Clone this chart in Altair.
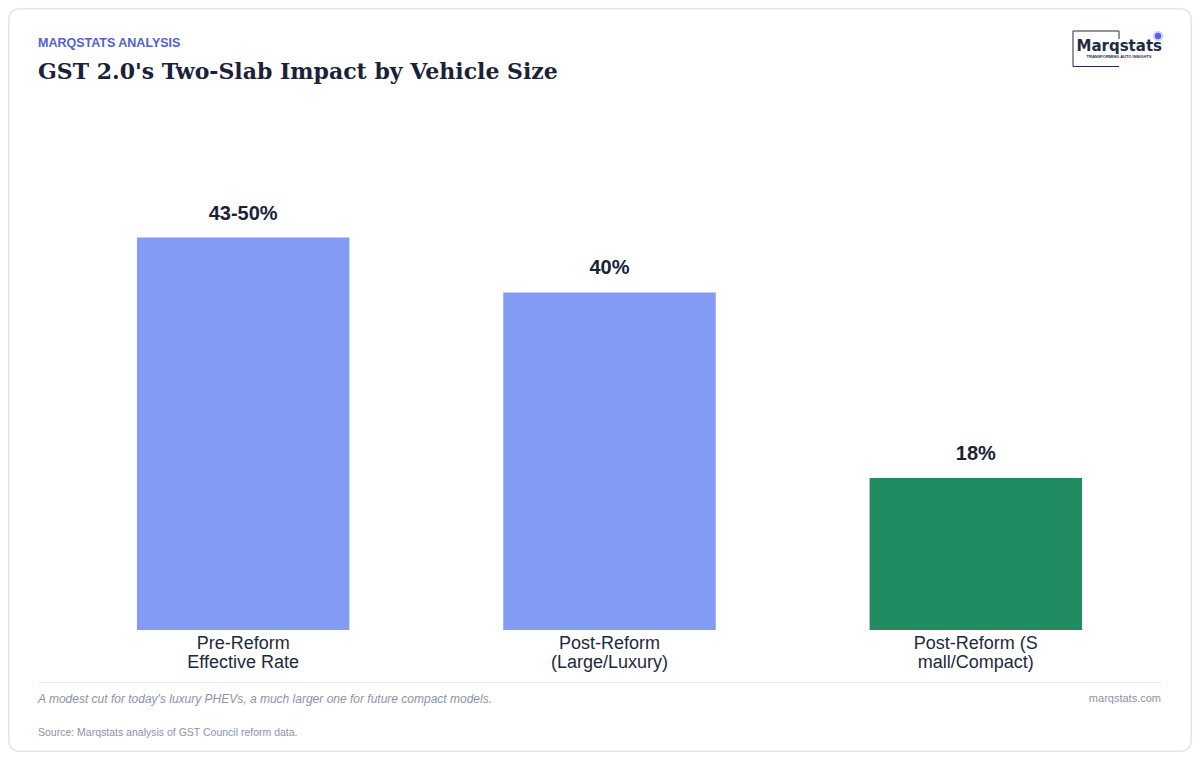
import altair as alt
import pandas as pd

# ---- data ----
categories = ["Pre-Reform\nEffective Rate", "Post-Reform\n(Large/Luxury)", "Post-Reform (S\nmall/Compact)"]
values = [46.5, 40, 18]
value_labels = ["43-50%", "40%", "18%"]
bar_colors = ["#849BF4", "#849BF4", "#218B62"]

eyebrow = "MARQSTATS ANALYSIS"
title = "GST 2.0's Two-Slab Impact by Vehicle Size"
note = "A modest cut for today's luxury PHEVs, a much larger one for future compact models."
site = "marqstats.com"
source = "Source: Marqstats analysis of GST Council reform data."
logo_name = "Marqstats"
logo_tag = "TRANSFORMING AUTO INSIGHTS"

df = pd.DataFrame({"category": categories, "value": values, "label": value_labels, "color": bar_colors})
one = pd.DataFrame({"a": [0]})

# plot area origin in page pixels
OX, OY = 60, 100


def px(x):
    return x - OX


def py(y):
    return y - OY


x_enc = alt.X(
    "category:N",
    sort=categories,
    scale=alt.Scale(paddingInner=0.42, paddingOuter=0.21),
    axis=alt.Axis(
        title=None, labelAngle=0, labelFontSize=18, labelLineHeight=19.5,
        labelColor="#1e293b", labelFont="Liberation Sans", labelPadding=4,
        ticks=False, tickSize=0, domain=False, grid=False, zindex=2,
        labelExpr="split(datum.label, '\\n')", labelLimit=400,
    ),
)
y_enc = alt.Y("value:Q", scale=alt.Scale(domain=[0, 62.8], nice=False, zero=True), axis=None)

card = alt.Chart(one).mark_rect(
    fill="white", stroke="#e3e6eb", strokeWidth=1.5, cornerRadius=10
).encode(
    x=alt.value(px(8.75)), x2=alt.value(px(1191.25)),
    y=alt.value(py(8.75)), y2=alt.value(py(751.25)),
)

bars = alt.Chart(df).mark_bar().encode(
    x=x_enc, y=y_enc, color=alt.Color("color:N", scale=None)
)

bar_labels = alt.Chart(df).mark_text(
    dy=-18, baseline="alphabetic", fontSize=20, fontWeight="bold",
    font="Liberation Sans", color="#1a2238",
).encode(x=x_enc, y=y_enc, text="label:N")


def txt(s, x, y, **kw):
    return alt.Chart(one).mark_text(text=s, **kw).encode(x=alt.value(px(x)), y=alt.value(py(y)))


def rule(x1, y1, x2, y2, color, width):
    return alt.Chart(one).mark_rule(color=color, strokeWidth=width).encode(
        x=alt.value(px(x1)), x2=alt.value(px(x2)), y=alt.value(py(y1)), y2=alt.value(py(y2))
    )


eyebrow_t = txt(eyebrow, 38, 47, align="left", baseline="alphabetic", fontSize=12.5,
                fontWeight="bold", font="Liberation Sans", color="#5062cc")
title_t = txt(title, 38, 78.5, align="left", baseline="alphabetic", fontSize=22,
              fontWeight="bold", font="DejaVu Serif", color="#1a2238")

footer_line = rule(38, 682.5, 1162, 682.5, "#e5e7eb", 1)
note_t = txt(note, 38, 703, align="left", baseline="alphabetic", fontSize=12,
             fontStyle="italic", font="Liberation Sans", color="#8b93a5")
site_t = txt(site, 1161, 702, align="right", baseline="alphabetic", fontSize=11,
             font="Liberation Sans", color="#8b93a5")
source_t = txt(source, 38, 736, align="left", baseline="alphabetic", fontSize=10.5,
               font="Liberation Sans", color="#8b93a5")

# logo
logo_col = "#1f2a44"
logo_parts = [
    rule(1073, 31, 1119, 31, logo_col, 1),
    rule(1073, 31, 1073, 66.5, logo_col, 1),
    rule(1073, 66.5, 1119, 66.5, logo_col, 1),
    rule(1119, 31, 1119, 39, logo_col, 1),
    txt(logo_name, 1076.5, 51, align="left", baseline="alphabetic", fontSize=15,
        font="DejaVu Sans", fontWeight="bold", color=logo_col),
    txt(logo_tag, 1119, 57.5, align="center", baseline="alphabetic", fontSize=4,
        font="Liberation Sans", fontWeight="bold", color=logo_col),
    alt.Chart(one).mark_circle(size=110, color="#6c72ee", opacity=0.3).encode(
        x=alt.value(px(1158)), y=alt.value(py(36))),
    alt.Chart(one).mark_circle(size=40, color="#5a5fe6", opacity=1).encode(
        x=alt.value(px(1158)), y=alt.value(py(36))),
]

chart = alt.layer(
    card, bars, bar_labels, eyebrow_t, title_t, footer_line, note_t, site_t, source_t, *logo_parts
).properties(
    width=1099, height=530,
    autosize=alt.AutoSizeParams(type="none"),
    padding={"left": 52, "top": 92, "right": 33, "bottom": 122},
).configure_view(stroke=None).configure(background="white")

chart.save("out.html", embed_options={"renderer": "svg", "actions": False})
